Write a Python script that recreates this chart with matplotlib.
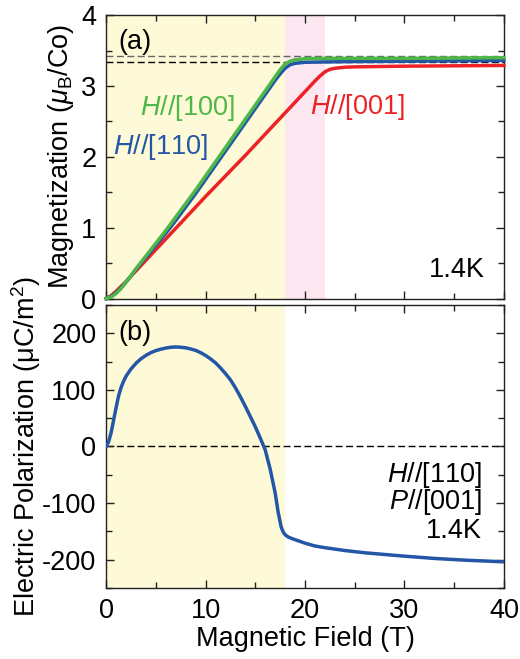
import matplotlib
matplotlib.use("Agg")
from matplotlib import pyplot as plt
from matplotlib.ticker import MultipleLocator

plt.rcParams['font.family'] = ['Liberation Sans', 'DejaVu Sans']
plt.rcParams['mathtext.fontset'] = 'custom'
plt.rcParams['mathtext.rm'] = 'Liberation Sans'
plt.rcParams['mathtext.it'] = 'Liberation Sans:italic'
plt.rcParams['mathtext.bf'] = 'Liberation Sans:bold'
plt.rcParams['axes.unicode_minus'] = False

# magnetizacao (muB/Co) x campo (T), 1.4 K
h_100 = [0, 0.5, 1, 1.5, 2, 2.5, 3, 4, 5, 6, 7, 8, 9, 10, 11, 12, 13, 14, 15, 16, 16.5, 17, 17.5, 18, 18.5, 19,
         20, 22, 25, 30, 35, 40]
m_100 = [0, 0.02, 0.07, 0.14, 0.23, 0.32, 0.42, 0.60, 0.78, 0.96, 1.15, 1.34, 1.53, 1.73, 1.93, 2.13, 2.33, 2.53,
         2.73, 2.93, 3.03, 3.13, 3.23, 3.31, 3.35, 3.37, 3.385, 3.39, 3.39, 3.39, 3.395, 3.40]

h_110 = [0, 0.5, 1, 1.5, 2, 2.5, 3, 4, 5, 6, 7, 8, 9, 10, 11, 12, 13, 14, 15, 16, 16.5, 17, 17.5, 18, 18.5, 19,
         20, 22, 25, 30, 35, 40]
m_110 = [0, 0.03, 0.08, 0.15, 0.23, 0.32, 0.41, 0.58, 0.75, 0.92, 1.10, 1.29, 1.48, 1.68, 1.88, 2.08, 2.28, 2.48,
         2.68, 2.88, 2.98, 3.08, 3.17, 3.25, 3.30, 3.32, 3.335, 3.34, 3.345, 3.35, 3.355, 3.36]

h_001 = [0, 0.5, 1, 1.5, 2, 3, 4, 5, 6, 8, 10, 12, 14, 16, 18, 19, 20, 20.5, 21, 21.5, 22, 22.5, 23, 24, 25, 30,
         35, 40]
m_001 = [0, 0.04, 0.10, 0.17, 0.24, 0.39, 0.54, 0.69, 0.84, 1.14, 1.44, 1.73, 2.02, 2.32, 2.62, 2.77, 2.92, 2.995,
         3.07, 3.14, 3.20, 3.235, 3.25, 3.265, 3.27, 3.28, 3.285, 3.29]

# polarizacao eletrica (uC/m2), H//[110], P//[001]
h_p = [0, 0.25, 0.5, 0.75, 1.0, 1.25, 1.5, 1.75, 2.0, 2.5, 3.0, 3.5, 4.0, 4.5, 5.0, 5.5, 6.0, 6.5, 7.0, 7.5, 8.0,
       8.5, 9.0, 9.5, 10.0, 10.5, 11.0, 11.5, 12.0, 12.5, 13.0, 13.5, 14.0, 14.5, 15.0, 15.5, 16.0, 16.5, 17.0,
       17.3, 17.6, 17.8, 18.0, 18.3, 18.7, 19.2, 20, 21, 22, 24, 26, 28, 30, 33, 36, 40]
pol = [0, 8, 24, 46, 68, 89, 104, 115, 124, 137, 147, 155, 161, 166, 169.5, 172, 174, 175.5, 176, 175.5, 174.5,
       172.5, 170, 166, 161, 155, 148, 139, 129, 118, 104, 88, 71, 53, 35, 15, -6, -40, -82,
       -116, -142, -151, -156, -160, -163, -166, -171, -176, -179, -184, -188, -191, -194, -198, -201, -204]

m_sat = [3.42, 3.34]

verde = '#4db848'
azul = '#2356a6'
vermelho = '#ec2227'
amarelo = '#fef9d6'
rosa = '#fce6f0'

fs = 19.5

fig = plt.figure(figsize=(5.2, 6.59), dpi=100)
ax1 = fig.add_axes([0.204, 0.547, 0.765, 0.430])
ax2 = fig.add_axes([0.204, 0.108, 0.765, 0.429])

# painel (a)
ax1.axvspan(0, 18, color=amarelo, lw=0, zorder=0)
ax1.axvspan(18, 22, color=rosa, lw=0, zorder=0)
ax1.axhline(m_sat[0], color='#666666', lw=1, ls=(0, (5, 2.5)), zorder=1)
ax1.axhline(m_sat[1], color='black', lw=1, ls=(0, (5, 2.5)), zorder=1)
ax1.plot(h_001, m_001, color=vermelho, lw=2.5, zorder=3, clip_on=False)
ax1.plot(h_110, m_110, color=azul, lw=2.5, zorder=4, clip_on=False)
ax1.plot(h_100, m_100, color=verde, lw=2.5, zorder=5, clip_on=False)
ax1.set_xlim(0, 40)
ax1.set_ylim(0, 4)
ax1.yaxis.set_major_locator(MultipleLocator(1))
ax1.yaxis.set_minor_locator(MultipleLocator(0.5))
ax1.set_ylabel(r'Magnetization ($\mu_\mathrm{B}$/Co)', fontsize=fs)
ax1.yaxis.set_label_coords(-0.075, 0.5)
ax1.tick_params(labelbottom=False)

ax1.text(1.2, 3.62, '(a)', fontsize=fs, va='center')
ax1.text(3.4, 2.69, '$H$//[100]', color=verde, fontsize=fs, va='center')
ax1.text(0.7, 2.14, '$H$//[110]', color=azul, fontsize=fs, va='center')
ax1.text(20.5, 2.70, '$H$//[001]', color=vermelho, fontsize=fs, va='center')
ax1.text(38.1, 0.40, '1.4K', fontsize=fs, ha='right', va='center')

# painel (b)
ax2.axvspan(0, 18, color=amarelo, lw=0, zorder=0)
ax2.axhline(0, color='black', lw=1, ls=(0, (5, 2.5)), zorder=1)
ax2.plot(h_p, pol, color=azul, lw=2.5, zorder=3)
ax2.set_xlim(0, 40)
ax2.set_ylim(-250, 250)
ax2.yaxis.set_major_locator(MultipleLocator(100))
ax2.yaxis.set_minor_locator(MultipleLocator(50))
ax2.set_xlabel('Magnetic Field (T)', fontsize=fs, labelpad=2)
ax2.set_ylabel('Electric Polarization (μC/m$^2$)', fontsize=fs)
ax2.yaxis.set_label_coords(-0.158, 0.5)

ax2.text(1.2, 200, '(b)', fontsize=fs, va='center')
ax2.text(37.8, -50, '$H$//[110]', fontsize=fs, ha='right', va='center')
ax2.text(37.8, -99, '$P$//[001]', fontsize=fs, ha='right', va='center')
ax2.text(37.8, -150, '1.4K', fontsize=fs, ha='right', va='center')

for ax in (ax1, ax2):
    ax.xaxis.set_major_locator(MultipleLocator(10))
    ax.xaxis.set_minor_locator(MultipleLocator(5))
    ax.tick_params(which='both', direction='in', top=True, right=True, color='#222222', width=1)
    ax.tick_params(which='major', length=6, labelsize=fs, pad=7)
    ax.tick_params(which='minor', length=4)
    for s in ax.spines.values():
        s.set_color('#222222')
        s.set_linewidth(1)

fig.savefig('out.png', dpi=100)
